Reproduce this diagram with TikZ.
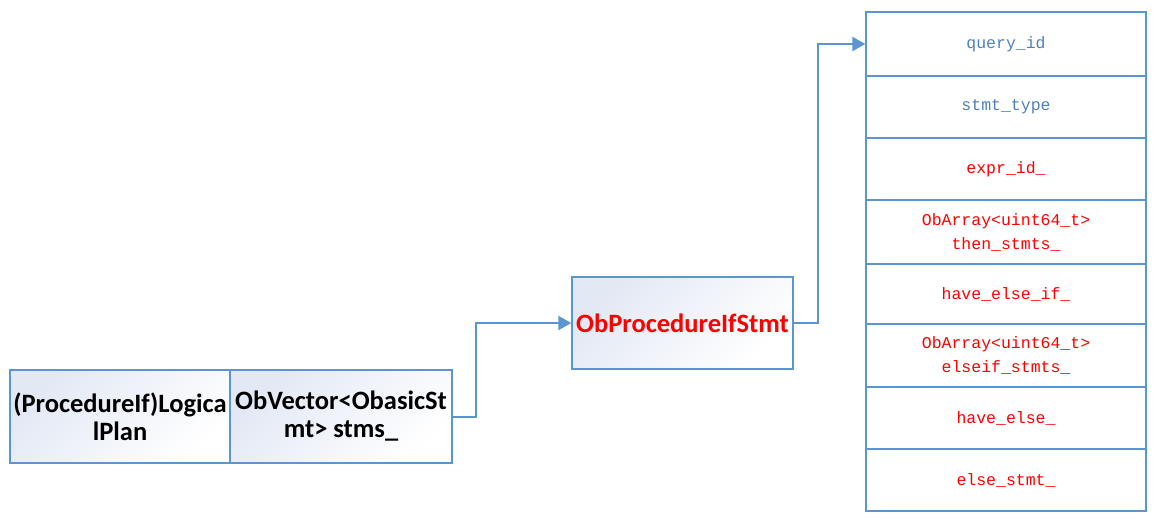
\documentclass[tikz,border=0pt]{standalone}
\usepackage{fontspec}
\setmainfont{Carlito}
\newfontfamily\monof{Liberation Mono}
\usetikzlibrary{arrows.meta}
\definecolor{bordc}{RGB}{91,150,210}
\definecolor{bluet}{RGB}{79,129,189}
\definecolor{fillc}{RGB}{226,232,244}
\tikzset{
  gbox/.style={draw=bordc, line width=1.3pt, top color=fillc, bottom color=white, shading angle=45,
    inner sep=0pt, align=center, font=\fontsize{26.5}{28}\selectfont\bfseries},
  row/.style={draw=bordc, line width=1.3pt, fill=white, inner sep=0pt, align=center,
    minimum width=280pt, font=\monof\fontsize{16.5}{24}\selectfont},
  conn/.style={draw=bordc, line width=2pt, -{Triangle[length=13pt,width=14pt]}},
}
\begin{document}
\begin{tikzpicture}[x=1pt,y=-1pt]
\useasboundingbox (0,0) rectangle (1155,523);
\node[gbox, minimum width=220pt, minimum height=93pt] (lp) at (120,416.5) {(ProcedureIf)Logica\\lPlan};
\node[gbox, minimum width=222pt, minimum height=93pt] (vec) at (341,416.5) {ObVector<ObasicSt\\mt> stms\_};
\node[gbox, minimum width=221pt, minimum height=92pt, text=red] (stmt) at (682.5,323) {ObProcedureIfStmt};
\node[row, minimum height=64pt, text=bluet] (r1) at (1006,44) {query\_id};
\node[row, minimum height=62pt, text=bluet] (r2) at (1006,107) {stmt\_type};
\node[row, minimum height=62pt, text=red] (r3) at (1006,169) {expr\_id\_};
\node[row, minimum height=64pt, text=red] (r4) at (1006,232) {ObArray<uint64\_t>\\then\_stmts\_};
\node[row, minimum height=60pt, text=red] (r5) at (1006,294) {have\_else\_if\_};
\node[row, minimum height=63pt, text=red] (r6) at (1006,355.5) {ObArray<uint64\_t>\\elseif\_stmts\_};
\node[row, minimum height=62pt, text=red] (r7) at (1006,418) {have\_else\_};
\node[row, minimum height=62pt, text=red] (r8) at (1006,480) {else\_stmt\_};
\draw[conn] (vec.east) -- ++(23,0) |- (stmt.west);
\draw[conn] (stmt.east) -- ++(24,0) |- (r1.west);
\end{tikzpicture}
\end{document}
